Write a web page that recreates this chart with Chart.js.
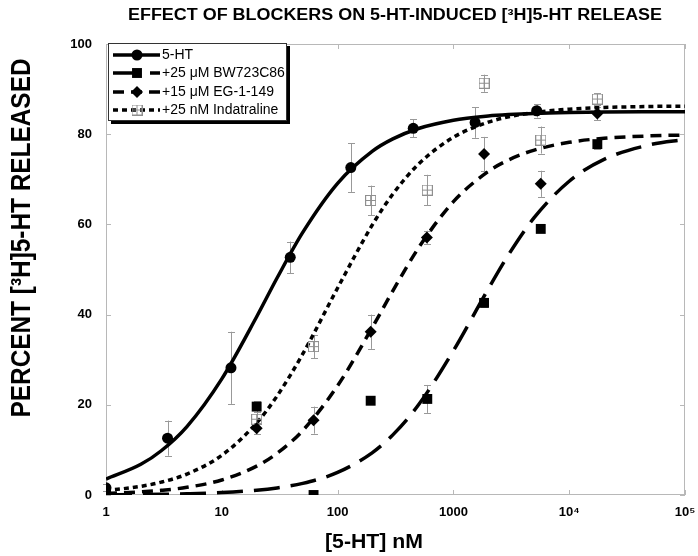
<!DOCTYPE html>
<html>
<head>
<meta charset="utf-8">
<script src="https://cdn.jsdelivr.net/npm/chart.js@4.4.0/dist/chart.umd.min.js"></script>
<style>
  html, body { margin: 0; padding: 0; background: #fff; }
</style>
</head>
<body>
<canvas id="release-chart" width="698" height="556"></canvas>
<script>
/* ===========================================
   5-HT release dose-response, log x axis
   =========================================== */

const TITLE = 'EFFECT OF BLOCKERS ON 5-HT-INDUCED [³H]5-HT RELEASE';
const X_TITLE = '[5-HT] nM';
const Y_TITLE = 'PERCENT [³H]5-HT RELEASED';

const X_TICKS = [1, 10, 100, 1000, 10000, 100000];
const X_TICK_LABELS = ['1', '10', '100', '1000', '10⁴', '10⁵'];
const Y_TICKS = [0, 20, 40, 60, 80, 100];

const LEGEND_LABELS = ['5-HT', '+25 μM BW723C86', '+15 μM EG-1-149', '+25 nM Indatraline'];

// measured points (mean, +/- error)
const htX = [1, 3.4, 12, 39, 130, 450, 1540, 5240];
const htY = [1.6, 12.6, 28.2, 52.7, 72.6, 81.3, 82.6, 85.2];
const htErr = [0.8, 3.9, 8.0, 3.5, 5.4, 2.0, 3.4, 1.5];

const bwX = [1, 20, 62, 193, 595, 1840, 5680, 17500];
const bwY = [0.3, 19.6, 0, 20.9, 21.3, 42.6, 59.0, 77.8];
const bwErr = [0, 1.2, 0, 0, 3.1, 1.0, 0, 1.0];

const egX = [1, 20, 62, 193, 590, 1840, 5680, 17500];
const egY = [0.5, 14.8, 16.6, 36.2, 57.1, 75.6, 69.0, 84.6];
const egErr = [0, 1.2, 3.0, 3.8, 1.5, 3.8, 2.9, 1.5];

const indX = [20, 62, 193, 595, 1840, 5680, 17500];
const indY = [16.8, 32.9, 65.3, 67.6, 91.3, 78.7, 87.8];
const indErr = [2.2, 2.6, 3.3, 3.4, 1.9, 3.0, 1.3];

// fitted curves
const curveX = [1, 2, 3, 5, 10, 20, 30, 50, 100, 200, 300, 500, 1000, 2000, 3000, 5000, 10000, 20000, 50000, 100000];
const htCurve = [3.54, 6.80, 9.81, 15.18, 25.76, 39.53, 48.11, 58.22, 69.11, 76.23, 78.95, 81.26, 83.09, 84.03, 84.35, 84.61, 84.80, 84.90, 84.96, 84.98];
const bwCurve = [0.05, 0.11, 0.16, 0.27, 0.53, 1.05, 1.57, 2.58, 5.0, 9.41, 13.33, 20.0, 32.0, 45.71, 53.33, 61.54, 69.57, 74.42, 77.67, 78.82];
const egCurve = [0.35, 0.69, 1.03, 1.70, 3.33, 6.40, 9.23, 14.29, 24.24, 37.21, 45.28, 54.79, 65.04, 71.75, 74.30, 76.48, 78.20, 79.09, 79.63, 79.82];
const indCurve = [0.97, 1.92, 2.85, 4.64, 8.81, 15.98, 21.94, 31.27, 45.90, 59.93, 66.73, 73.38, 79.32, 82.66, 83.84, 84.81, 85.55, 85.92, 86.15, 86.22];

const FONT = '"Liberation Sans", Arial, Helvetica, sans-serif';
const NARROW = '"Liberation Sans Narrow", "Liberation Sans", Arial, sans-serif';
const GRAY = '#8f8f8f';

const zip = (xs, ys) => xs.map((x, i) => ({ x, y: ys[i] }));

function crossSquare(size, color) {
  const c = document.createElement('canvas');
  c.width = size;
  c.height = size;
  const g = c.getContext('2d');
  g.strokeStyle = color;
  g.lineWidth = 1;
  g.strokeRect(0.5, 0.5, size - 1, size - 1);
  g.beginPath();
  g.moveTo(size / 2, 0.5);
  g.lineTo(size / 2, size - 0.5);
  g.moveTo(0.5, size / 2);
  g.lineTo(size - 0.5, size / 2);
  g.stroke();
  return c;
}

const openSquare = crossSquare(11, GRAY);

const styles = [
  { style: 'circle', radius: 5.5, dash: [], color: '#000' },
  { style: 'rect', radius: 7, dash: [26, 11], color: '#000' },
  { style: 'rectRot', radius: 6, dash: [11, 7], color: '#000' },
  { style: openSquare, radius: 6, dash: [5, 4], color: GRAY }
];

const errorSets = [
  { xs: htX, ys: htY, errs: htErr },
  { xs: bwX, ys: bwY, errs: bwErr },
  { xs: egX, ys: egY, errs: egErr },
  { xs: indX, ys: indY, errs: indErr }
];

function pointSet(xs, ys, s) {
  return {
    type: 'scatter',
    data: zip(xs, ys),
    pointStyle: s.style,
    pointRadius: s.radius,
    pointHoverRadius: s.radius,
    pointBackgroundColor: s.color,
    pointBorderColor: s.color,
    pointBorderWidth: 0,
    showLine: false,
    order: 0
  };
}

function curveSet(ys, s) {
  return {
    type: 'line',
    data: zip(curveX, ys),
    borderColor: '#000',
    borderWidth: 3.5,
    borderDash: s.dash,
    borderCapStyle: 'butt',
    cubicInterpolationMode: 'monotone',
    pointRadius: 0,
    fill: false,
    order: 1
  };
}

// text stretched or squeezed to a given width
function fitText(ctx, text, x, y, width) {
  const w = ctx.measureText(text).width;
  ctx.save();
  ctx.translate(x, y);
  ctx.scale(width / w, 1);
  ctx.fillText(text, 0, 0);
  ctx.restore();
}

const decor = {
  id: 'decor',
  beforeDatasetsDraw(chart) {
    const { ctx, chartArea: a, scales: { x, y } } = chart;
    ctx.save();
    ctx.strokeStyle = '#b8b8b8';
    ctx.lineWidth = 1;
    ctx.strokeRect(a.left + 0.5, a.top + 0.5, a.right - a.left - 1, a.bottom - a.top - 1);
    ctx.beginPath();
    Y_TICKS.forEach(v => {
      const py = Math.round(y.getPixelForValue(v)) + 0.5;
      ctx.moveTo(a.left, py); ctx.lineTo(a.left + 5, py);
      ctx.moveTo(a.right - 5, py); ctx.lineTo(a.right, py);
    });
    X_TICKS.forEach(v => {
      const px = Math.round(x.getPixelForValue(v)) + 0.5;
      ctx.moveTo(px, a.bottom); ctx.lineTo(px, a.bottom - 5);
      ctx.moveTo(px, a.top); ctx.lineTo(px, a.top + 5);
    });
    ctx.stroke();

    // error bars
    ctx.strokeStyle = '#999';
    ctx.beginPath();
    errorSets.forEach(set => {
      set.xs.forEach((xv, i) => {
        const e = set.errs[i];
        if (!e) return;
        const px = Math.round(x.getPixelForValue(xv)) + 0.5;
        const top = y.getPixelForValue(set.ys[i] + e);
        const bot = y.getPixelForValue(set.ys[i] - e);
        ctx.moveTo(px, top); ctx.lineTo(px, bot);
        ctx.moveTo(px - 3.5, Math.round(top) + 0.5); ctx.lineTo(px + 3.5, Math.round(top) + 0.5);
        ctx.moveTo(px - 3.5, Math.round(bot) + 0.5); ctx.lineTo(px + 3.5, Math.round(bot) + 0.5);
      });
    });
    ctx.stroke();
    ctx.restore();
  },
  afterDraw(chart) {
    const { ctx } = chart;
    ctx.save();
    ctx.fillStyle = '#000';
    ctx.textAlign = 'center';
    ctx.textBaseline = 'middle';

    ctx.font = 'bold 16px ' + FONT;
    fitText(ctx, TITLE, 395, 16, 534);

    ctx.font = 'bold 20px ' + NARROW;
    fitText(ctx, X_TITLE, 374, 542, 98);

    ctx.save();
    ctx.translate(22, 238);
    ctx.rotate(-Math.PI / 2);
    ctx.font = 'bold 28px ' + NARROW;
    fitText(ctx, Y_TITLE, 0, 0, 359);
    ctx.restore();

    // legend box with drop shadow
    const bx = 108, by = 43, bw = 179, bh = 78;
    ctx.fillStyle = '#000';
    ctx.fillRect(bx + 3, by + 3, bw, bh);
    ctx.fillStyle = '#fff';
    ctx.fillRect(bx, by, bw, bh);
    ctx.strokeStyle = '#333';
    ctx.lineWidth = 1;
    ctx.strokeRect(bx + 0.5, by + 0.5, bw - 1, bh - 1);

    const rows = [55, 73, 92, 110];
    ctx.textAlign = 'left';
    ctx.font = '14px ' + FONT;
    styles.forEach((s, i) => {
      const ry = rows[i];
      ctx.save();
      ctx.strokeStyle = '#000';
      ctx.lineWidth = 3.5;
      ctx.lineCap = 'butt';
      ctx.setLineDash(s.dash);
      ctx.beginPath();
      ctx.moveTo(113, ry);
      ctx.lineTo(160, ry);
      ctx.stroke();
      ctx.restore();
      ctx.fillStyle = s.color;
      ctx.strokeStyle = s.color;
      Chart.helpers.drawPoint(ctx, { pointStyle: s.style, radius: s.radius, rotation: 0, borderWidth: 0 }, 137, ry);
      ctx.fillStyle = '#000';
      ctx.fillText(LEGEND_LABELS[i], 162, ry);
    });
    ctx.restore();
  }
};

new Chart(document.getElementById('release-chart'), {
  type: 'scatter',
  data: {
    datasets: [
      pointSet(htX, htY, styles[0]),
      pointSet(bwX, bwY, styles[1]),
      pointSet(egX, egY, styles[2]),
      pointSet(indX, indY, styles[3]),
      curveSet(htCurve, styles[0]),
      curveSet(bwCurve, styles[1]),
      curveSet(egCurve, styles[2]),
      curveSet(indCurve, styles[3])
    ]
  },
  options: {
    responsive: false,
    animation: false,
    devicePixelRatio: 1,
    layout: { padding: { left: 0, right: 13, top: 44, bottom: 0 } },
    plugins: {
      legend: { display: false },
      title: { display: false },
      tooltip: { enabled: false }
    },
    scales: {
      x: {
        type: 'logarithmic',
        min: 1,
        max: 100000,
        afterBuildTicks: s => { s.ticks = X_TICKS.map(v => ({ value: v })); },
        afterFit: s => { s.height = 61; s.paddingLeft = 0; s.paddingRight = 0; },
        grid: { display: false, drawTicks: false },
        border: { display: false },
        ticks: {
          autoSkip: false,
          maxRotation: 0,
          padding: 10,
          color: '#000',
          font: { family: FONT, size: 13, weight: 'bold' },
          callback: (val, i) => X_TICK_LABELS[i]
        }
      },
      y: {
        min: 0,
        max: 100,
        afterBuildTicks: s => { s.ticks = Y_TICKS.map(v => ({ value: v })); },
        afterFit: s => { s.width = 106; s.paddingTop = 0; s.paddingBottom = 0; },
        grid: { display: false, drawTicks: false },
        border: { display: false },
        ticks: {
          padding: 14,
          color: '#000',
          font: { family: FONT, size: 13, weight: 'bold' }
        }
      }
    }
  },
  plugins: [decor]
});
</script>
</body>
</html>
